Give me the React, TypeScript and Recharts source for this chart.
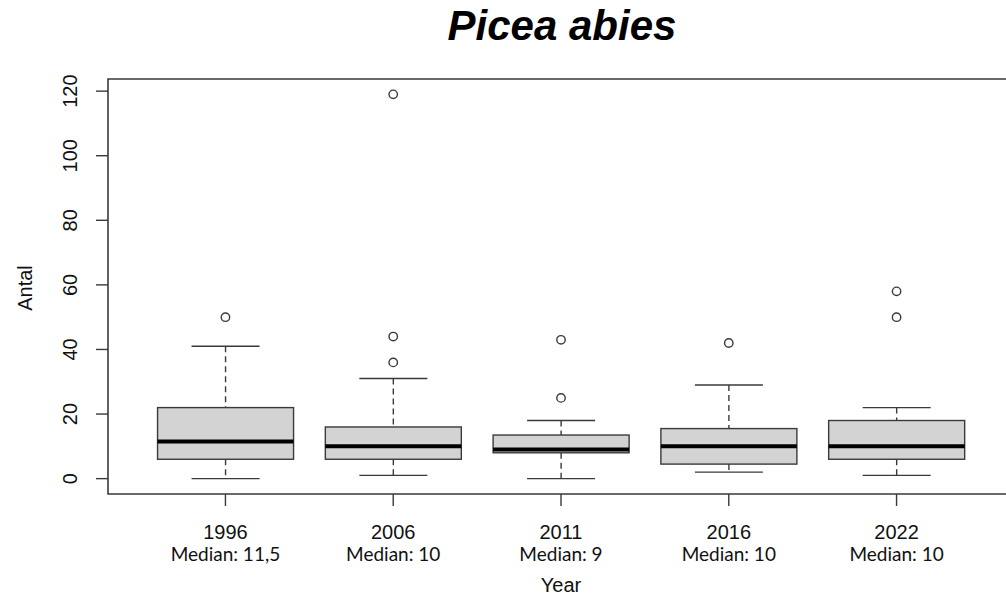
import { ComposedChart, Bar, Scatter, XAxis, YAxis, ReferenceArea } from "recharts";

const years = ["1996", "2006", "2011", "2016", "2022"];
const medianLabels = ["11,5", "10", "9", "10", "10"];
const whiskerLow = [0, 1, 0, 2, 1];
const q1 = [6, 6, 8, 4.5, 6];
const median = [11.5, 10, 9, 10, 10];
const q3 = [22, 16, 13.5, 15.5, 18];
const whiskerHigh = [41, 31, 18, 29, 22];
const outliers = [[50], [119, 44, 36], [43, 25], [42], [58, 50]];
const yTicks = [0, 20, 40, 60, 80, 100, 120];

const boxes = years.map((year, i) => ({
  pos: i + 1,
  year,
  lo: whiskerLow[i],
  q1: q1[i],
  med: median[i],
  q3: q3[i],
  hi: whiskerHigh[i],
}));

const outlierPoints = outliers.flatMap((vals, i) => vals.map(v => ({ pos: i + 1, value: v })));

const LINE = "#3a3a3a";

function BoxShape(props: any) {
  const { x, y, width, height, payload } = props;
  const ppu = height / (payload.q3 - payload.q1);
  const cx = x + width / 2;
  const yHi = y - (payload.hi - payload.q3) * ppu;
  const yLo = y + height + (payload.q1 - payload.lo) * ppu;
  const yMed = y + (payload.q3 - payload.med) * ppu;
  const cap = width / 4;
  return (
    <g>
      <line x1={cx} x2={cx} y1={yHi} y2={y} stroke={LINE} strokeWidth={1.4} strokeDasharray="6 4" />
      <line x1={cx} x2={cx} y1={y + height} y2={yLo} stroke={LINE} strokeWidth={1.4} strokeDasharray="6 4" />
      <line x1={cx - cap} x2={cx + cap} y1={yHi} y2={yHi} stroke={LINE} strokeWidth={1.4} />
      <line x1={cx - cap} x2={cx + cap} y1={yLo} y2={yLo} stroke={LINE} strokeWidth={1.4} />
      <rect x={x} y={y} width={width} height={height} fill="#d3d3d3" stroke={LINE} strokeWidth={1.4} />
      <line x1={x} x2={x + width} y1={yMed} y2={yMed} stroke="#000" strokeWidth={4} />
    </g>
  );
}

function OutlierShape(props: any) {
  return <circle cx={props.cx} cy={props.cy} r={4.2} fill="none" stroke={LINE} strokeWidth={1.4} />;
}

function YTick(props: any) {
  const { x, y, payload } = props;
  return (
    <text
      x={x - 17}
      y={y}
      transform={`rotate(-90, ${x - 17}, ${y})`}
      textAnchor="middle"
      fontFamily="'Liberation Sans', Arial, sans-serif"
      fontSize={20}
      fill="#111"
    >
      {payload.value}
    </text>
  );
}

function XTick(props: any) {
  const { x, y, payload } = props;
  const i = payload.value - 1;
  return (
    <g>
      <text x={x} y={y + 31} textAnchor="middle" fontFamily="'Liberation Sans', Arial, sans-serif" fontSize={20} fill="#111">
        {years[i]}
      </text>
      <text x={x} y={y + 53} textAnchor="middle" fontFamily="Lato, 'Open Sans', sans-serif" fontSize={19} fill="#111">
        {`Median: ${medianLabels[i]}`}
      </text>
    </g>
  );
}

export default function App() {
  return (
    <div style={{ position: "absolute", left: 0, top: 0, width: 1006, height: 601, overflow: "hidden", background: "#fff" }}>
      <ComposedChart width={1030} height={601} data={boxes} margin={{ top: 79, right: 16, bottom: 0, left: 0 }}>
        <XAxis
          type="number"
          dataKey="pos"
          domain={[0.3, 5.7]}
          ticks={[1, 2, 3, 4, 5]}
          height={107}
          tickSize={12}
          axisLine={false}
          tickLine={{ stroke: LINE, strokeWidth: 1.4 }}
          tick={<XTick />}
          interval={0}
        />
        <YAxis
          type="number"
          domain={[-4.76, 123.76]}
          ticks={yTicks}
          width={108}
          tickSize={12}
          axisLine={false}
          tickLine={{ stroke: LINE, strokeWidth: 1.4 }}
          tick={<YTick />}
          interval={0}
          allowDataOverflow
        />
        <ReferenceArea x1={0.3} x2={5.7} y1={-4.76} y2={123.76} fill="none" stroke={LINE} strokeWidth={1.6} fillOpacity={0} />
        <Bar dataKey={(d: any) => [d.q1, d.q3]} barSize={136} shape={<BoxShape />} isAnimationActive={false} />
        <Scatter data={outlierPoints} dataKey="value" shape={<OutlierShape />} isAnimationActive={false} />
        <text x={562} y={40} textAnchor="middle" fontFamily="'Liberation Sans', Arial, sans-serif" fontWeight="bold" fontStyle="italic" fontSize={42} fill="#000">
          Picea abies
        </text>
        <text x={32} y={288} transform="rotate(-90, 32, 288)" textAnchor="middle" fontFamily="'Liberation Sans', Arial, sans-serif" fontSize={20} fill="#111">
          Antal
        </text>
        <text x={561} y={592} textAnchor="middle" fontFamily="'Liberation Sans', Arial, sans-serif" fontSize={20} fill="#111">
          Year
        </text>
      </ComposedChart>
    </div>
  );
}
